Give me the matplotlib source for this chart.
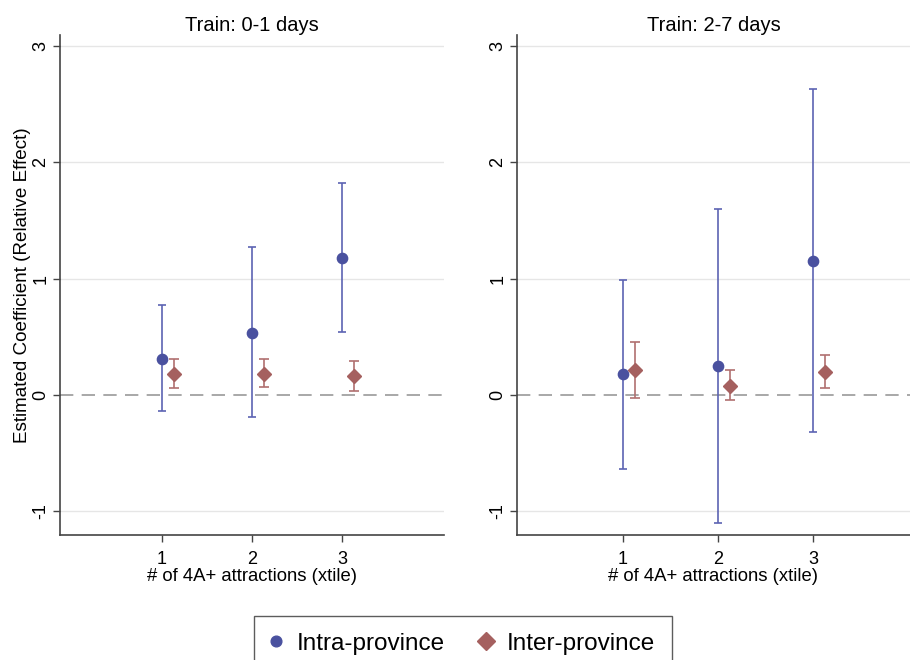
import matplotlib.pyplot as plt
from matplotlib.lines import Line2D

plt.rcParams['font.family'] = ['Liberation Sans', 'DejaVu Sans']

# xtile groups of 4A+ attractions
groups = [1, 2, 3]
offset = 0.13  # inter-province estimates sit just right of the group

panel_titles = ["Train: 0-1 days", "Train: 2-7 days"]

# intra-province: coefficient, lower CI, upper CI (one list per panel)
intra_coef = [[0.31, 0.53, 1.18], [0.175, 0.25, 1.155]]
intra_lo = [[-0.14, -0.195, 0.54], [-0.636, -1.10, -0.324]]
intra_hi = [[0.77, 1.27, 1.82], [0.99, 1.60, 2.63]]

# inter-province: coefficient, lower CI, upper CI
inter_coef = [[0.18, 0.18, 0.16], [0.215, 0.077, 0.20]]
inter_lo = [[0.058, 0.066, 0.035], [-0.026, -0.049, 0.058]]
inter_hi = [[0.31, 0.31, 0.29], [0.456, 0.21, 0.344]]

blue = "#4A519F"
blue_line = "#5C63B3"
red = "#A5605F"
red_line = "#B07070"

fig = plt.figure(figsize=(9.1, 6.6), dpi=100)
ax_left = fig.add_axes([60 / 910, 125 / 660, 384 / 910, 500 / 660])
ax_right = fig.add_axes([517 / 910, 125 / 660, 393 / 910, 500 / 660])
xlims = [(-0.133, 4.133), (-0.116, 4.02)]

for i, ax in enumerate([ax_left, ax_right]):
    for y in [-1, 1, 2, 3]:
        ax.axhline(y, color="#E6E6E6", lw=1, zorder=0)
    ax.axhline(0, color="#9A9A9A", lw=1.2, ls=(0, (8, 5)), zorder=1)

    x_in = [g + offset for g in groups]
    ax.errorbar(groups, intra_coef[i],
                yerr=[[c - lo for c, lo in zip(intra_coef[i], intra_lo[i])],
                      [hi - c for c, hi in zip(intra_coef[i], intra_hi[i])]],
                fmt="none", ecolor=blue_line, elinewidth=1.2, capsize=3.2,
                capthick=1.2, zorder=2)
    ax.plot(groups, intra_coef[i], "o", color=blue, markersize=7.4, zorder=3)
    ax.errorbar(x_in, inter_coef[i],
                yerr=[[c - lo for c, lo in zip(inter_coef[i], inter_lo[i])],
                      [hi - c for c, hi in zip(inter_coef[i], inter_hi[i])]],
                fmt="none", ecolor=red_line, elinewidth=1.2, capsize=3.5,
                capthick=1.2, zorder=2)
    ax.plot(x_in, inter_coef[i], "D", color=red, markersize=7.2, zorder=3)

    ax.set_xlim(*xlims[i])
    ax.set_ylim(-1.206, 3.095)
    ax.set_xticks(groups)
    ax.set_yticks([-1, 0, 1, 2, 3])
    ax.set_yticklabels(["-1", "0", "1", "2", "3"], rotation=90, va="center")
    ax.tick_params(axis="both", direction="out", length=5.2, width=1,
                   color="#444444", labelsize=13)
    ax.tick_params(axis="x", pad=6)
    ax.tick_params(axis="y", pad=2.5)
    for side in ["top", "right"]:
        ax.spines[side].set_visible(False)
    for side in ["left", "bottom"]:
        ax.spines[side].set_color("#444444")
        ax.spines[side].set_linewidth(1.2)
    ax.set_title(panel_titles[i], fontsize=14.5, pad=3)
    ax.set_xlabel("# of 4A+ attractions (xtile)", fontsize=13.3, labelpad=0)

ax_left.set_ylabel("Estimated Coefficient (Relative Effect)", fontsize=13.6,
                   labelpad=1)

handles = [
    Line2D([], [], marker="o", ls="none", color=blue, markersize=7.7),
    Line2D([], [], marker="D", ls="none", color=red, markersize=9),
]
leg = fig.legend(handles, ["Intra-province", "Inter-province"], ncol=2,
                 loc="upper center", bbox_to_anchor=(463 / 910, 1 - 616 / 660),
                 borderaxespad=0, fontsize=17.5, frameon=True, fancybox=False,
                 edgecolor="#333333", borderpad=0.68, handletextpad=0.66,
                 columnspacing=1.5, handlelength=0.4)
leg.get_frame().set_linewidth(1)

fig.savefig("out.png", dpi=100)
